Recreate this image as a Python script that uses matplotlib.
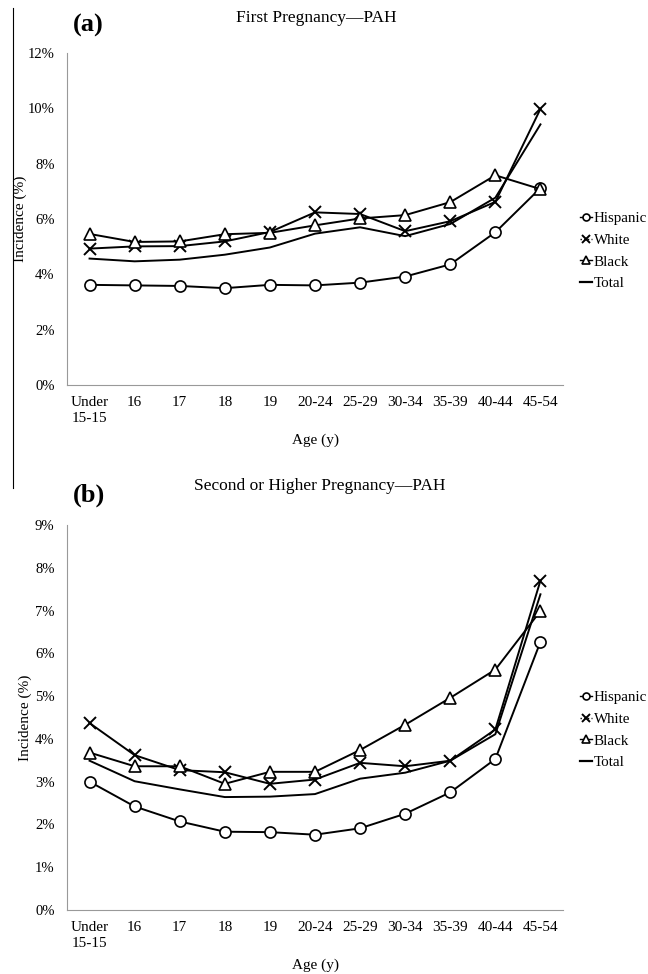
import matplotlib
matplotlib.use("Agg")
import matplotlib.pyplot as plt
from matplotlib.lines import Line2D
from matplotlib.ticker import PercentFormatter

plt.rcParams['font.family'] = ['Liberation Serif', 'DejaVu Serif']

ages = ["Under\n15-15", "16", "17", "18", "19", "20-24", "25-29", "30-34", "35-39", "40-44", "45-54"]

# panel (a) first pregnancy
hisp_a = [3.62, 3.60, 3.58, 3.50, 3.62, 3.60, 3.70, 3.92, 4.36, 5.52, 7.12]
white_a = [4.93, 5.01, 5.02, 5.19, 5.53, 6.24, 6.18, 5.56, 5.92, 6.62, 9.98]
black_a = [5.46, 5.17, 5.19, 5.45, 5.50, 5.77, 6.02, 6.14, 6.61, 7.58, 7.08]
total_a = [4.57, 4.47, 4.53, 4.71, 4.97, 5.47, 5.70, 5.38, 5.82, 6.77, 9.42]

# panel (b) second or higher pregnancy
hisp_b = [3.00, 2.42, 2.07, 1.83, 1.82, 1.76, 1.91, 2.25, 2.75, 3.53, 6.27]
white_b = [4.37, 3.62, 3.27, 3.22, 2.95, 3.05, 3.44, 3.36, 3.49, 4.22, 7.70]
black_b = [3.68, 3.36, 3.36, 2.95, 3.23, 3.23, 3.74, 4.33, 4.96, 5.62, 6.99]
total_b = [3.49, 3.01, 2.82, 2.64, 2.65, 2.71, 3.07, 3.21, 3.49, 4.11, 7.38]

fig = plt.figure(figsize=(6.48, 9.74), dpi=100)
W, H = 648.0, 974.0


def draw_panel(rect, hisp, white, black, total, ymax, ystep, xlab_y, ylab_x, leg_y):
    ax = fig.add_axes(rect)
    x = range(len(ages))
    ax.plot(x, total, color='black', lw=1.4)
    ax.plot(x, hisp, color='black', lw=1.4, marker='o', ms=8, mfc='white', mec='black', mew=1.2)
    ax.plot(x, white, color='black', lw=1.4, marker='x', ms=8.5, mew=1.4)
    ax.plot(x, black, color='black', lw=1.4, marker='^', ms=8.5, mfc='white', mec='black', mew=1.2)
    ax.set_xlim(-0.5, 10.5)
    ax.set_ylim(0, ymax)
    ax.set_yticks(range(0, ymax + 1, ystep))
    ax.yaxis.set_major_formatter(PercentFormatter(decimals=0))
    ax.set_xticks(list(x))
    ax.set_xticklabels(ages, fontsize=11, linespacing=1.25)
    ax.tick_params(axis='x', length=0, labelsize=11, pad=8)
    ax.tick_params(axis='y', length=0, labelsize=10.5, pad=9)
    ax.spines['top'].set_visible(False)
    ax.spines['right'].set_visible(False)
    ax.spines['left'].set_color('#999999')
    ax.spines['bottom'].set_color('#999999')
    ax.set_xlabel("Age (y)", fontsize=11, va='center')
    ax.xaxis.set_label_coords(0.5, xlab_y)
    ax.set_ylabel("Incidence (%)", fontsize=11, va='center')
    ax.yaxis.set_label_coords(ylab_x, 0.5)

    handles = [
        Line2D([], [], color='black', lw=1.0, marker='o', ms=5, mfc='white', mew=1.2),
        Line2D([], [], color='black', lw=1.0, ls=':', marker='x', ms=5.5, mew=1.4),
        Line2D([], [], color='black', lw=1.0, marker='^', ms=5.5, mfc='white', mew=1.2),
        Line2D([], [], color='black', lw=1.6),
    ]
    fig.legend(handles, ["Hispanic", "White", "Black", "Total"], loc='center left',
               bbox_to_anchor=(580 / W, 1 - leg_y / H), frameon=False, fontsize=10.8,
               handlelength=0.8, handletextpad=0.1, labelspacing=0.55, borderpad=0,
               borderaxespad=0)
    return ax


# panel rects in pixels: left 67, right 563
ax1 = draw_panel([67 / W, 1 - 385 / H, 496 / W, 332 / H], hisp_a, white_a, black_a, total_a,
                 12, 2, -0.166, -0.095, 251)
ax2 = draw_panel([67 / W, 1 - 910 / H, 496 / W, 385 / H], hisp_b, white_b, black_b, total_b,
                 9, 1, -0.143, -0.085, 730)

fig.text(73 / W, 1 - 25 / H, "(a)", fontsize=19, fontweight='bold', va='center', ha='left')
fig.text(316 / W, 1 - 18 / H, "First Pregnancy\u2014PAH", fontsize=12.5, va='center', ha='center')
fig.text(73 / W, 1 - 495 / H, "(b)", fontsize=19, fontweight='bold', va='center', ha='left')
fig.text(320 / W, 1 - 486 / H, "Second or Higher Pregnancy\u2014PAH", fontsize=12.5, va='center', ha='center')

# thin border line at left of upper panel
fig.add_artist(Line2D([13 / W, 13 / W], [1 - 8 / H, 1 - 488 / H], color='black', lw=0.8))

fig.savefig("out.png", dpi=100)
